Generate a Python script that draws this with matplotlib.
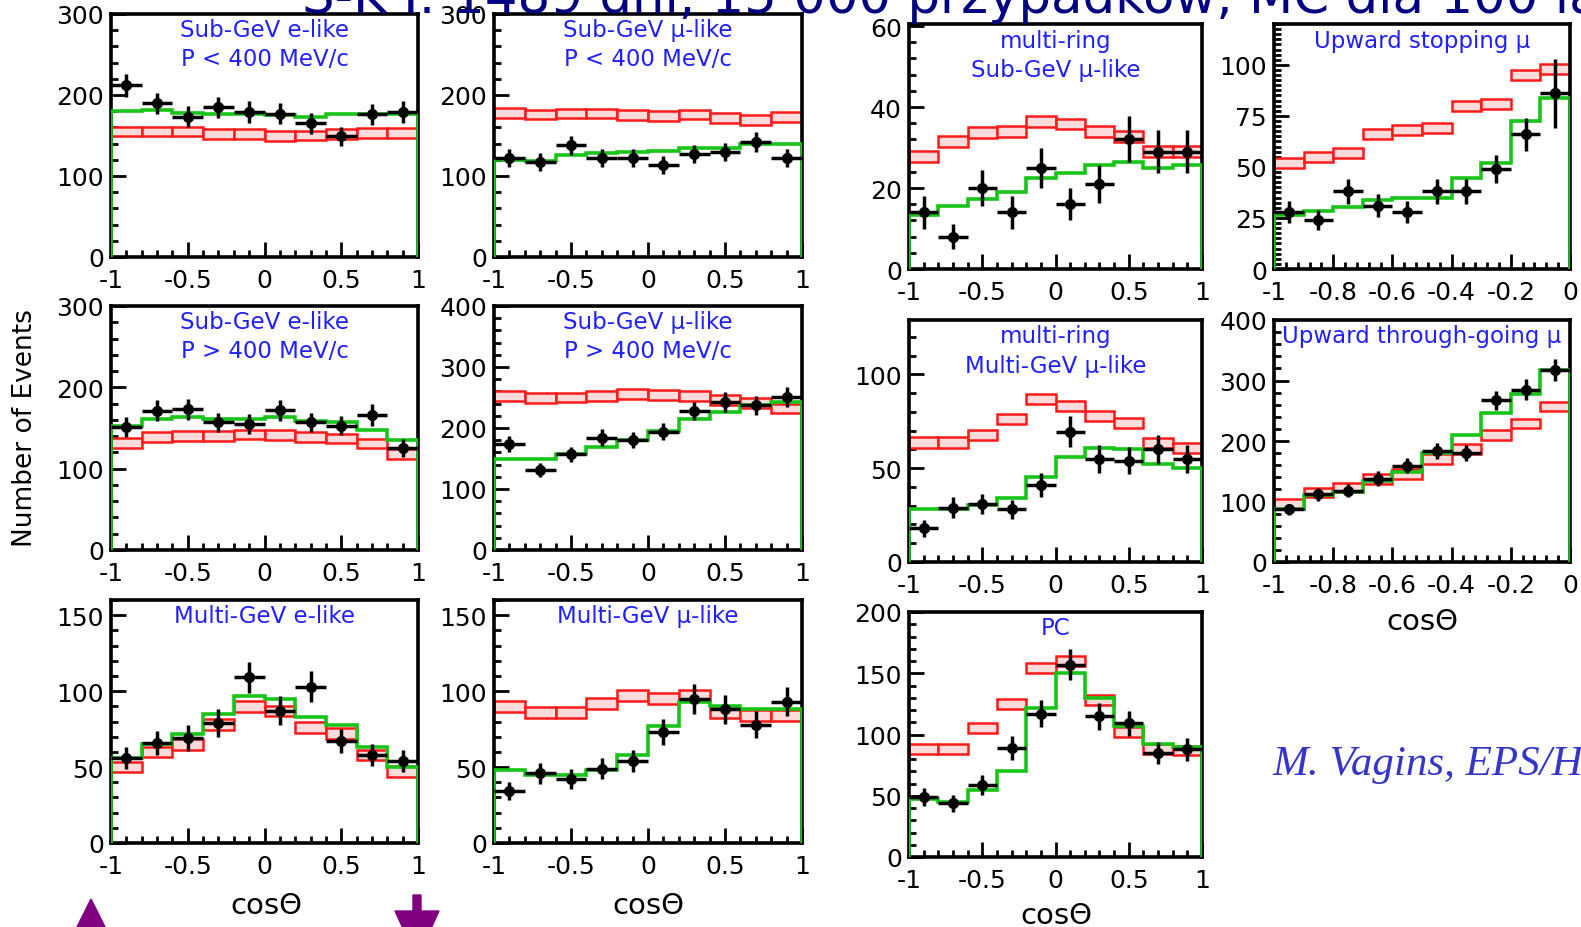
import numpy as np
import matplotlib
matplotlib.use("Agg")
import matplotlib.pyplot as plt
from matplotlib.ticker import AutoMinorLocator
from matplotlib.patches import Polygon

plt.rcParams["font.family"] = ["DejaVu Sans"]
plt.rcParams["axes.unicode_minus"] = False

W, H = 1581, 928

# bin edges
edges_full = [-1, -0.8, -0.6, -0.4, -0.2, 0, 0.2, 0.4, 0.6, 0.8, 1]
edges_up = [-1, -0.9, -0.8, -0.7, -0.6, -0.5, -0.4, -0.3, -0.2, -0.1, 0]

# Sub-GeV e-like P < 400 MeV/c
sge_lo_data = [212, 190, 173, 185, 179, 177, 165, 149, 176, 179]
sge_lo_err = [14, 13, 13, 13, 13, 13, 13, 12, 13, 13]
sge_lo_osc = [180, 181, 178, 177, 177, 175, 173, 176, 177, 177]
sge_lo_mc = [155, 155, 155, 152, 152, 149, 150, 152, 153, 153]

# Sub-GeV mu-like P < 400 MeV/c
sgm_lo_data = [122, 117, 138, 122, 122, 114, 127, 130, 142, 122]
sgm_lo_err = [11, 11, 12, 11, 11, 11, 11, 11, 12, 11]
sgm_lo_osc = [120, 119, 126, 129, 130, 131, 134, 135, 140, 140]
sgm_lo_mc = [178, 176, 177, 177, 175, 174, 176, 172, 169, 173]

# Sub-GeV e-like P > 400 MeV/c
sge_hi_data = [151, 171, 173, 157, 155, 172, 157, 153, 166, 125]
sge_hi_err = [12, 13, 13, 12, 12, 13, 12, 12, 13, 11]
sge_hi_osc = [153, 161, 163, 161, 161, 163, 159, 157, 147, 135]
sge_hi_mc = [132, 139, 140, 140, 142, 141, 139, 137, 131, 118]

# Sub-GeV mu-like P > 400 MeV/c
sgm_hi_data = [174, 131, 157, 184, 181, 194, 228, 243, 237, 251]
sgm_hi_err = [13, 11, 12, 14, 13, 14, 15, 16, 15, 16]
sgm_hi_osc = [150, 150, 158, 169, 181, 195, 215, 227, 238, 243]
sgm_hi_mc = [253, 249, 250, 253, 256, 254, 253, 246, 241, 232]

# Multi-GeV e-like
mge_data = [56, 66, 69, 79, 109, 87, 103, 67, 58, 54]
mge_err = [7.5, 8, 8.5, 9, 10.5, 9.5, 10, 8, 7.5, 7.5]
mge_osc = [56, 65, 72, 85, 97, 95, 83, 78, 63, 50]
mge_mc = [50, 60, 65, 78, 90, 87, 76, 72, 58, 47]

# Multi-GeV mu-like
mgm_data = [34, 46, 42, 49, 54, 73, 95, 88, 78, 93]
mgm_err = [6, 7, 6.5, 7, 7.5, 8.5, 10, 9.5, 9, 9.5]
mgm_osc = [48, 45, 45, 48, 58, 77, 93, 90, 88, 88]
mgm_mc = [90, 86, 86, 92, 97, 95, 97, 86, 84, 84]

# multi-ring Sub-GeV mu-like
mrs_data = [14, 8, 20, 14, 25, 16, 21, 32, 29, 29]
mrs_err = [4, 3, 4.5, 4, 5, 4, 4.6, 5.7, 5.4, 5.4]
mrs_osc = [13.4, 15.5, 17.4, 19, 22.4, 23.7, 25.6, 26.5, 25, 25.7]
mrs_mc = [27.8, 31.5, 33.7, 34, 36.4, 35.8, 34, 32.7, 29, 29]

# multi-ring Multi-GeV mu-like
mrm_data = [18, 29, 31, 28, 41, 69.5, 55, 54, 60, 55]
mrm_err = [4.5, 5.5, 5.5, 5.3, 6.5, 8.3, 7.4, 7.3, 7.7, 7.4]
mrm_osc = [28, 28, 30.5, 34, 45.5, 56, 60.6, 60, 52, 50]
mrm_mc = [63.7, 63.7, 67.7, 76, 86.7, 83.3, 78, 74, 63.3, 61]

# PC
pc_data = [49, 44, 59, 89, 117, 157, 115, 109, 85, 88]
pc_err = [7, 7, 8, 9.5, 11, 12.5, 11, 10.5, 9.2, 9.4]
pc_osc = [47, 45, 55, 70, 122, 150, 130, 107, 92, 90]
pc_mc = [88, 88, 105, 125, 154, 160, 128, 102, 88, 87]

# Upward stopping mu
ups_data = [28, 24, 38, 31, 28, 38, 38, 49, 66, 86]
ups_err = [5.3, 4.9, 6.2, 5.6, 5.3, 6.2, 6.2, 7, 8.1, 17]
ups_osc = [26.5, 28.5, 30.5, 34, 35, 35, 44.5, 52, 72.5, 84]
ups_mc = [52, 55, 57, 66, 68, 69, 80, 81, 95, 98]

# Upward through-going mu
upt_data = [87, 112, 118, 138, 159, 183, 180, 267, 285, 317]
upt_err = [9.3, 10.6, 10.9, 11.7, 12.6, 13.5, 13.4, 16.3, 16.9, 17.8]
upt_osc = [87, 110, 115, 134, 149, 180, 210, 246, 277, 317]
upt_mc = [96, 115, 123, 137, 145, 170, 187, 210, 229, 257]

xt_full = [-1, -0.5, 0, 0.5, 1]
xl_full = ["-1", "-0.5", "0", "0.5", "1"]
xt_up = [-1, -0.8, -0.6, -0.4, -0.2, 0]
xl_up = ["-1", "-0.8", "-0.6", "-0.4", "-0.2", "0"]

fig = plt.figure(figsize=(W / 100, H / 100), dpi=100)


def panel(box, edges, data, derr, osc, mc, mc_err, ylim, yticks, xt, xl,
          title, ttop=16, yminor=5):
    l, t, r, b = box
    ax = fig.add_axes([l / W, 1 - b / H, (r - l) / W, (b - t) / H])
    edges = np.asarray(edges, dtype=float)
    centers = (edges[:-1] + edges[1:]) / 2
    widths = np.diff(edges)
    # no-oscillation MC boxes, best-fit line, data
    ax.bar(centers, 2 * mc_err, bottom=np.asarray(mc) - mc_err, width=widths,
           facecolor="#ffdcdc", edgecolor="#ff1a1a", linewidth=1.8, zorder=2)
    ax.stairs(osc, edges, baseline=0, color="#18c418", linewidth=2.6, zorder=3)
    ax.errorbar(centers, data, yerr=derr, xerr=widths / 2, fmt="o", color="black",
                ms=7, elinewidth=2.5, capsize=0, zorder=4)
    ax.set_xlim(edges[0], edges[-1])
    ax.set_ylim(*ylim)
    ax.set_xticks(xt)
    ax.set_xticklabels(xl)
    ax.set_yticks(yticks)
    ax.set_yticklabels([str(v) for v in yticks])
    ax.xaxis.set_minor_locator(AutoMinorLocator(5))
    ax.yaxis.set_minor_locator(AutoMinorLocator(yminor))
    ax.tick_params(which="both", direction="in", top=False, right=False,
                   labelsize=18, width=2, color="black")
    ax.tick_params(which="major", length=11)
    ax.tick_params(which="minor", length=5)
    ax.tick_params(axis="x", pad=8)
    ax.tick_params(axis="y", pad=5)
    for s in ax.spines.values():
        s.set_linewidth(2.6)
    hpx = b - t
    for i, line in enumerate(title):
        ax.text(0.5, 1 - (ttop + 29 * i) / hpx, line, transform=ax.transAxes,
                ha="center", va="center", fontsize=16.5, color="#2020ff")
    return ax


panel((111, 15, 418, 258), edges_full, sge_lo_data, sge_lo_err, sge_lo_osc, sge_lo_mc, 6,
      (0, 300), [0, 100, 200, 300], xt_full, xl_full, ["Sub-GeV e-like", "P < 400 MeV/c"])
panel((494, 15, 802, 258), edges_full, sgm_lo_data, sgm_lo_err, sgm_lo_osc, sgm_lo_mc, 6,
      (0, 300), [0, 100, 200, 300], xt_full, xl_full, ["Sub-GeV μ-like", "P < 400 MeV/c"])
panel((111, 307, 418, 551), edges_full, sge_hi_data, sge_hi_err, sge_hi_osc, sge_hi_mc, 6,
      (0, 300), [0, 100, 200, 300], xt_full, xl_full, ["Sub-GeV e-like", "P > 400 MeV/c"])
panel((494, 307, 802, 551), edges_full, sgm_hi_data, sgm_hi_err, sgm_hi_osc, sgm_hi_mc, 8,
      (0, 400), [0, 100, 200, 300, 400], xt_full, xl_full, ["Sub-GeV μ-like", "P > 400 MeV/c"])
panel((111, 601, 418, 844), edges_full, mge_data, mge_err, mge_osc, mge_mc, 3.5,
      (0, 160), [0, 50, 100, 150], xt_full, xl_full, ["Multi-GeV e-like"])
panel((494, 601, 802, 844), edges_full, mgm_data, mgm_err, mgm_osc, mgm_mc, 3.5,
      (0, 160), [0, 50, 100, 150], xt_full, xl_full, ["Multi-GeV μ-like"])
panel((909, 25, 1202, 270), edges_full, mrs_data, mrs_err, mrs_osc, mrs_mc, 1.3,
      (0, 60.5), [0, 20, 40, 60], xt_full, xl_full, ["multi-ring", "Sub-GeV μ-like"], ttop=17)
panel((909, 321, 1202, 563), edges_full, mrm_data, mrm_err, mrm_osc, mrm_mc, 2.7,
      (0, 129), [0, 50, 100], xt_full, xl_full, ["multi-ring", "Multi-GeV μ-like"])
panel((909, 613, 1202, 858), edges_full, pc_data, pc_err, pc_osc, pc_mc, 4,
      (0, 200), [0, 50, 100, 150, 200], xt_full, xl_full, ["PC"])
panel((1274, 25, 1570, 270), edges_up, ups_data, ups_err, ups_osc, ups_mc, 2.5,
      (0, 120), [0, 25, 50, 75, 100], xt_up, xl_up, ["Upward stopping μ"], ttop=17, yminor=10)
panel((1274, 321, 1570, 563), edges_up, upt_data, upt_err, upt_osc, upt_mc, 8,
      (0, 400), [0, 100, 200, 300, 400], xt_up, xl_up, ["Upward through-going μ"])

# axis labels
fig.text(25 / W, 1 - 428 / H, "Number of Events", rotation=90, ha="center", va="center",
         fontsize=19)
for x, y in [(266, 906), (648, 906), (1056, 916), (1422, 622)]:
    fig.text(x / W, 1 - y / H, "cosΘ", ha="center", va="center", fontsize=21)

# headline, cut by the top edge as in the slide
fig.text(302 / W, 1 - 13 / H, "S-K I: 1489 dni, 15 000 przypadków, MC dla 100 lat",
         ha="left", va="baseline", fontsize=37, color="#000080")

fig.text(1273 / W, 1 - 775 / H, "M. Vagins, EPS/HEP 2001", ha="left", va="baseline",
         fontsize=31, color="#3535c8", family="Liberation Serif", style="italic")

# purple arrows at the bottom
purple = "#800080"
fig.patches.append(Polygon([[91 / W, 1 - 900 / H], [71 / W, 1 - 940 / H], [111 / W, 1 - 940 / H]],
                           closed=True, transform=fig.transFigure, color=purple))
fig.patches.append(Polygon([[413 / W, 1 - 896 / H], [421 / W, 1 - 896 / H], [421 / W, 1 - 912 / H],
                            [439 / W, 1 - 912 / H], [417 / W, 1 - 960 / H], [395 / W, 1 - 912 / H],
                            [413 / W, 1 - 912 / H]],
                           closed=True, transform=fig.transFigure, color=purple))

fig.savefig("out.png", dpi=100)
